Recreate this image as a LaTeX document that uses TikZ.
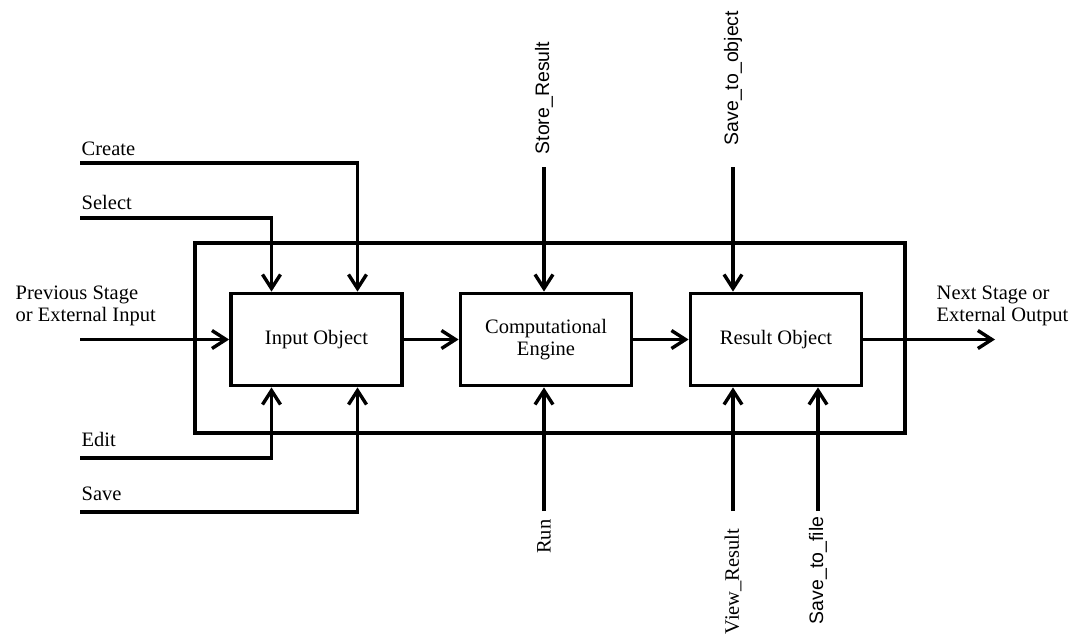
\documentclass[tikz,border=0pt]{standalone}
\usepackage{fontspec}
\setmainfont{Liberation Serif}
\setsansfont{Liberation Sans}
\usetikzlibrary{arrows.meta}
\begin{document}
\begin{tikzpicture}[x=1pt,y=-1pt,
  line width=3.4pt,
  arr/.style={-{Straight Barb[length=14pt,width=18pt]}},
  blk/.style={draw, line width=3.8pt, minimum width=171pt, minimum height=92pt, align=center, inner sep=0pt, font=\fontsize{20.5}{22}\selectfont},
  lbl/.style={inner sep=0pt, align=left, font=\fontsize{20.5}{22}\selectfont},
  vlbl/.style={rotate=90, inner sep=0pt},
  vsans/.style={vlbl, font=\sffamily\fontsize{19.5}{20}\selectfont},
  vserif/.style={vlbl, font=\fontsize{20.5}{22}\selectfont},
]
\useasboundingbox (0,0) rectangle (1070,638);
\fill[white] (0,0) rectangle (1070,638);

% frame
\node[draw, minimum width=710pt, minimum height=190pt, inner sep=0pt] (fr) at (550,338) {};

% blocks
\node[blk] (in) at (316.5,339.5) {Input Object};
\node[blk] (ce) at (546,339.5) {Computational\\Engine};
\node[blk] (ro) at (776,339.5) {Result Object};

% left inputs
\coordinate (cr) at (80,163);
\coordinate (se) at (80,218);
\coordinate (ed) at (80,458);
\coordinate (sv) at (80,512);
\coordinate (pv) at (80,339.5);
\draw[arr] (cr) -| ([xshift=41pt]in.north);
\draw[arr] (se) -| ([xshift=-45pt]in.north);
\draw[arr] (ed) -| ([xshift=-45pt]in.south);
\draw[arr] (sv) -| ([xshift=41pt]in.south);
\draw[arr] (pv) -- (in.west);

% flow
\draw[arr] (in.east) -- (ce.west);
\draw[arr] (ce.east) -- (ro.west);
\coordinate (out) at (995,339.5);
\draw[arr] (ro.east) -- (out);

% top controls
\coordinate (st) at (544,167);
\coordinate (so) at (733,167);
\draw[arr] (st) -- (st |- ce.north);
\draw[arr] (so) -- (so |- ro.north);

% bottom mechanisms
\coordinate (rn) at (544,511);
\coordinate (vr) at (733,511);
\coordinate (sf) at (818,511);
\draw[arr] (rn) -- (rn |- ce.south);
\draw[arr] (vr) -- (vr |- ro.south);
\draw[arr] (sf) -- (sf |- ro.south);

% labels
\node[lbl, anchor=base west] (lcr) at (80,155) {Create};
\node[lbl, anchor=base west] (lse) at (80,209) {Select};
\node[lbl, anchor=base west] (led) at (80,446) {Edit};
\node[lbl, anchor=base west] (lsv) at (80,500) {Save};
\node[lbl, anchor=north west] (lpv) at (14,284) {Previous Stage\\or External Input};
\node[lbl, anchor=north west] (lout) at (935,284) {Next Stage or\\External Output};

\node[vsans, anchor=west] (lst) at (544,156) {Store\_Result};
\node[vsans, anchor=west] (lso) at (733,147) {Save\_to\_object};
\node[vserif, anchor=east] (lrn) at (544,518) {Run};
\node[vserif, anchor=east] (lvr) at (733,527) {View\_Result};
\node[vsans, anchor=east] (lsf) at (818,515) {Save\_to\_file};
\end{tikzpicture}
\end{document}
